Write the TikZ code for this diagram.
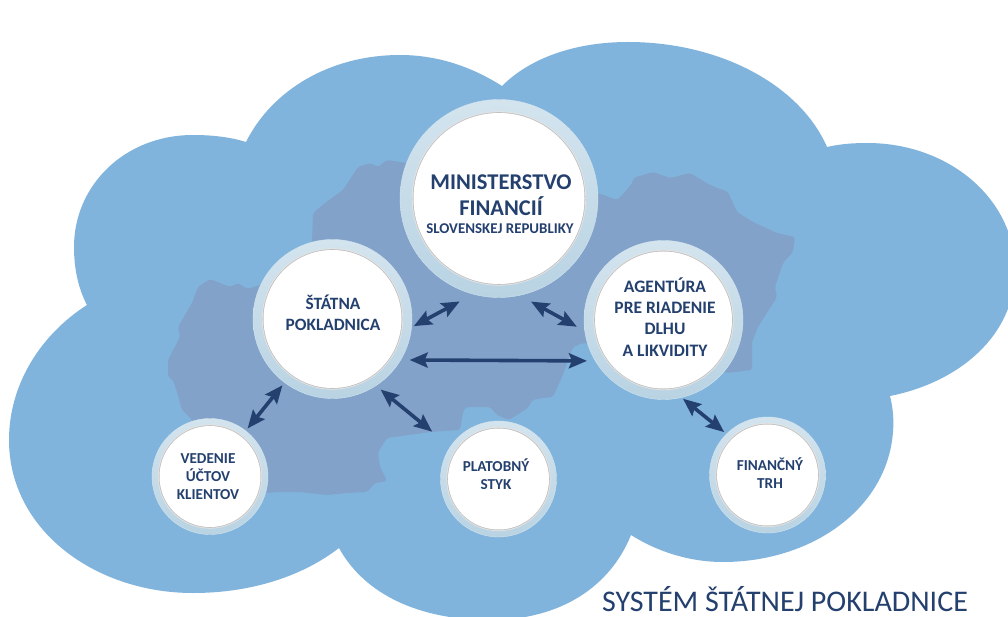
\documentclass[tikz,border=0pt]{standalone}
\usepackage{fontspec}
\setmainfont{Carlito}
\usetikzlibrary{arrows.meta}
\definecolor{cloud}{HTML}{80B4DC}
\definecolor{land}{HTML}{82A2CA}
\definecolor{ink}{HTML}{24406E}
\definecolor{ringtop}{HTML}{D3E4EE}
\definecolor{ringbot}{HTML}{B9D3E3}
\tikzset{x=1pt,y=-1pt,
 ring/.style={circle,top color=ringtop,bottom color=ringbot,draw=ringtop,line width=.4pt,inner sep=0pt,outer sep=0pt},
 lbl/.style={text=ink,font=\bfseries,align=center,inner sep=0pt},
 dbl/.style={{Stealth[length=18pt,width=15pt,inset=3pt]}-{Stealth[length=18pt,width=15pt,inset=3pt]},draw=ink,line width=3.6pt}}
\newcommand{\disc}[5]{%
 \node[ring,minimum size=#3*2pt] (#5) at (#1,#2) {};
 \fill[black!10] (#1,#2) circle ({#4+1.6});
 \fill[black!25] (#1,#2) circle ({#4+0.8});
 \fill[white] (#1,#2) circle (#4);
}
\begin{document}
\begin{tikzpicture}
\useasboundingbox (0,0) rectangle (1008,617);
\fill[white] (0,0) rectangle (1008,617);
% cloud
\fill[cloud]
 (246,142)
 .. controls (272,90) and (330,55) .. (400,55)
 .. controls (438,55) and (472,67) .. (502,86)
 .. controls (530,58) and (575,42) .. (628,42)
 .. controls (720,42) and (800,85) .. (827,147)
 .. controls (840,144) and (853,143) .. (867,143)
 .. controls (950,143) and (1015,200) .. (1015,270)
 .. controls (1015,335) and (960,382) .. (890,396)
 .. controls (893,408) and (894,420) .. (893,432)
 .. controls (887,510) and (810,562) .. (723,562)
 .. controls (690,562) and (658,552) .. (631,535)
 .. controls (610,587) and (560,620) .. (490,620)
 .. controls (420,620) and (365,595) .. (339,548)
 .. controls (300,578) and (248,593) .. (193,593)
 .. controls (95,593) and (9,530) .. (9,440)
 .. controls (9,385) and (40,335) .. (87,305)
 .. controls (78,288) and (74,268) .. (74,247)
 .. controls (74,185) and (125,135) .. (193,135)
 .. controls (212,135) and (230,137) .. (246,142) -- cycle;
% country
\fill[land,rounded corners=2pt]
 (173,380) -- (168,377) -- (168,360) -- (180,337) -- (178,327) -- (192,303) -- (198,287)
 -- (210,279) -- (230,287) -- (238,283) -- (247,289) -- (260,285) -- (312,270)
 -- (312,242) -- (313,213) -- (325,203) -- (343,190) -- (358,167) -- (370,163) -- (378,167)
 -- (387,160) -- (400,162) -- (500,180) -- (598,193) -- (617,200) -- (625,192) -- (633,182)
 -- (633,178) -- (653,172) -- (670,178) -- (690,173) -- (710,185) -- (728,192) -- (737,212)
 -- (753,222) -- (777,233) -- (795,237) -- (793,252) -- (783,263) -- (775,287) -- (777,297)
 -- (758,327) -- (752,342) -- (752,370) -- (727,373) -- (660,350)
 -- (583,343) -- (573,347) -- (562,377) -- (553,397) -- (543,398) -- (532,400) -- (528,408)
 -- (509,420) -- (497,415) -- (490,407) -- (466,407) -- (463,412) -- (460,430) -- (430,432)
 -- (387,438) -- (378,452) -- (380,467) -- (387,481) -- (375,483) -- (367,492) -- (347,493)
 -- (327,495) -- (300,492) -- (277,492) -- (267,493) -- (230,480)
 -- (192,420) -- (182,410) -- (177,392) -- cycle;
% discs
\disc{499}{198.5}{99}{85.5}{mf}
\disc{332.5}{319}{79.5}{69}{sp}
\disc{663.5}{320}{79.5}{68.5}{ag}
\disc{210}{476.5}{58}{50.5}{ve}
\disc{498.5}{479}{58}{50.5}{pl}
\disc{767.5}{475}{58}{50.5}{fi}
\node[lbl,font=\bfseries\fontsize{22.5}{26}\selectfont] (t1) at (501,195) {MINISTERSTVO\\FINANCIÍ};
\node[lbl,font=\bfseries\fontsize{14.9}{17}\selectfont] (t1b) at (500,229) {SLOVENSKEJ REPUBLIKY};
\node[lbl,font=\bfseries\fontsize{17.3}{21}\selectfont] (t2) at (333,313) {ŠTÁTNA\\POKLADNICA};
\node[lbl,font=\bfseries\fontsize{17.5}{21.3}\selectfont] (t3) at (665,317) {AGENTÚRA\\PRE RIADENIE\\DLHU\\A LIKVIDITY};
\node[lbl,font=\bfseries\fontsize{15.2}{18}\selectfont] (t4) at (208,477) {VEDENIE\\ÚČTOV\\KLIENTOV};
\node[lbl,font=\bfseries\fontsize{15.2}{18}\selectfont] (t5) at (496,474) {PLATOBNÝ\\STYK};
\node[lbl,font=\bfseries\fontsize{15.2}{18}\selectfont] (t6) at (770,473) {FINANČNÝ\\TRH};
\node[text=ink,inner sep=0pt,font=\fontsize{30}{34}\selectfont] (title) at (785,599) {SYSTÉM ŠTÁTNEJ POKLADNICE};
% connectors
\draw[dbl,shorten <=2.5pt,shorten >=15.5pt] (sp.-6.6) -- (mf.-105.5);
\draw[dbl,shorten <=13pt,shorten >=9pt] (mf.-78) -- (ag.188.2);
\draw[dbl,shorten <=9pt,shorten >=8.4pt] (sp.-31.9) -- (ag.-149);
\draw[dbl,shorten <=3pt,shorten >=3.6pt] (ve.52.8) -- (sp.-127.3);
\draw[dbl,shorten <=6.2pt,shorten >=23.5pt] (sp.-57.5) -- (pl.146.3);
\draw[dbl,shorten <=2pt,shorten >=3pt] (ag.-77.7) -- (fi.135);
\end{tikzpicture}
\end{document}
